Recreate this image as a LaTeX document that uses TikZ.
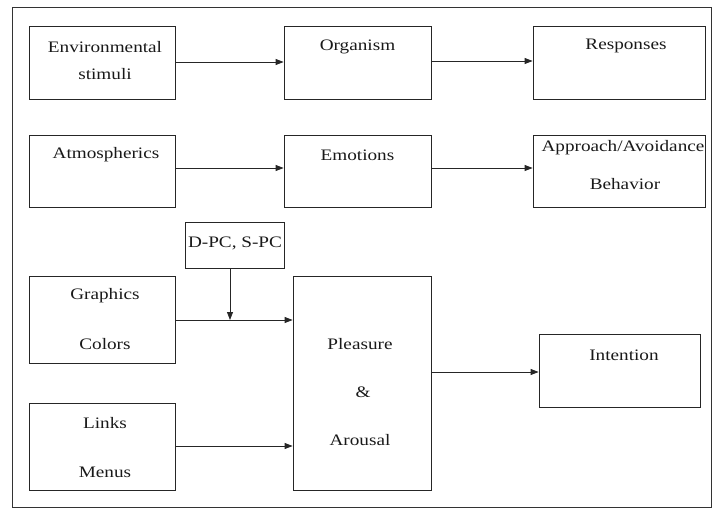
\documentclass[tikz,border=0pt]{standalone}
\usepackage{fontspec}
\usepackage{graphicx}
\setmainfont{Liberation Serif}
\usetikzlibrary{arrows.meta}
% widened serif lettering
\newcommand\stretchtxt[1]{\scalebox{1.2}[1]{#1}}
\begin{document}
\begin{tikzpicture}[x=1pt,y=-1pt,
  box/.style={draw=black!85, line width=0.8pt, rectangle, inner sep=0pt},
  lbl/.style={inner sep=0pt, font=\fontsize{16}{19}\selectfont, text=black!90},
  conn/.style={draw=black!85, line width=0.8pt, -{Triangle[length=8pt,width=6pt]}}]
\useasboundingbox (0,0) rectangle (713,509);
% outer frame
\draw[black!80, line width=0.8pt] (12,7) rectangle (711,507);

% boxes (centre, width, height)
\node[box, minimum width=146, minimum height=73] (env) at (102.5,62.5) {};
\node[box, minimum width=147, minimum height=73] (org) at (357.5,62.5) {};
\node[box, minimum width=172, minimum height=73] (res) at (619,62.5) {};
\node[box, minimum width=146, minimum height=72] (atm) at (102.5,171) {};
\node[box, minimum width=147, minimum height=72] (emo) at (357.5,171) {};
\node[box, minimum width=172, minimum height=72] (app) at (619,171) {};
\node[box, minimum width=99, minimum height=46] (dpc) at (234.5,245) {};
\node[box, minimum width=146, minimum height=87] (gra) at (102.5,319.5) {};
\node[box, minimum width=146, minimum height=87] (lnk) at (102.5,446.5) {};
\node[box, minimum width=138, minimum height=214] (ple) at (362,383) {};
\node[box, minimum width=161, minimum height=73] (int) at (619.5,370.5) {};

% labels
\node[lbl] (envA) at (105,47) {\stretchtxt{Environmental}};
\node[lbl] (envB) at (105,74) {\stretchtxt{stimuli}};
\node[lbl] (orgA) at (357.5,47) {\stretchtxt{Organism}};
\node[lbl] (resA) at (626,46) {\stretchtxt{Responses}};
\node[lbl] (atmA) at (106,155) {\stretchtxt{Atmospherics}};
\node[lbl] (emoA) at (357.5,155) {\stretchtxt{Emotions}};
\node[lbl] (appA) at (623,148) {\stretchtxt{Approach/Avoidance}};
\node[lbl] (appB) at (625,184) {\stretchtxt{Behavior}};
\node[lbl] (dpcA) at (235,243) {\stretchtxt{D-PC, S-PC}};
\node[lbl] (graA) at (105,296) {\stretchtxt{Graphics}};
\node[lbl] (graB) at (105,344) {\stretchtxt{Colors}};
\node[lbl] (lnkA) at (105,423) {\stretchtxt{Links}};
\node[lbl] (lnkB) at (105,472) {\stretchtxt{Menus}};
\node[lbl] (pleA) at (360,344) {\stretchtxt{Pleasure}};
\node[lbl] (pleB) at (363,392) {\stretchtxt{\&}};
\node[lbl] (pleC) at (360,440) {\stretchtxt{Arousal}};
\node[lbl] (intA) at (624,355) {\stretchtxt{Intention}};

% connectors
\draw[conn] (env.east |- 0,62) -- (org.west |- 0,62);
\draw[conn] (org.east |- 0,61) -- (res.west |- 0,61);
\draw[conn] (atm.east |- 0,168) -- (emo.west |- 0,168);
\draw[conn] (emo.east |- 0,168) -- (app.west |- 0,168);
\draw[conn] (gra.east |- 0,320) -- (ple.west |- 0,320);
\coordinate (join) at (230,320);
\draw[conn] (dpc.south -| join) -- (join);
\draw[conn] (lnk.east |- 0,446) -- (ple.west |- 0,446);
\draw[conn] (ple.east |- 0,372) -- (int.west |- 0,372);
\end{tikzpicture}
\end{document}
